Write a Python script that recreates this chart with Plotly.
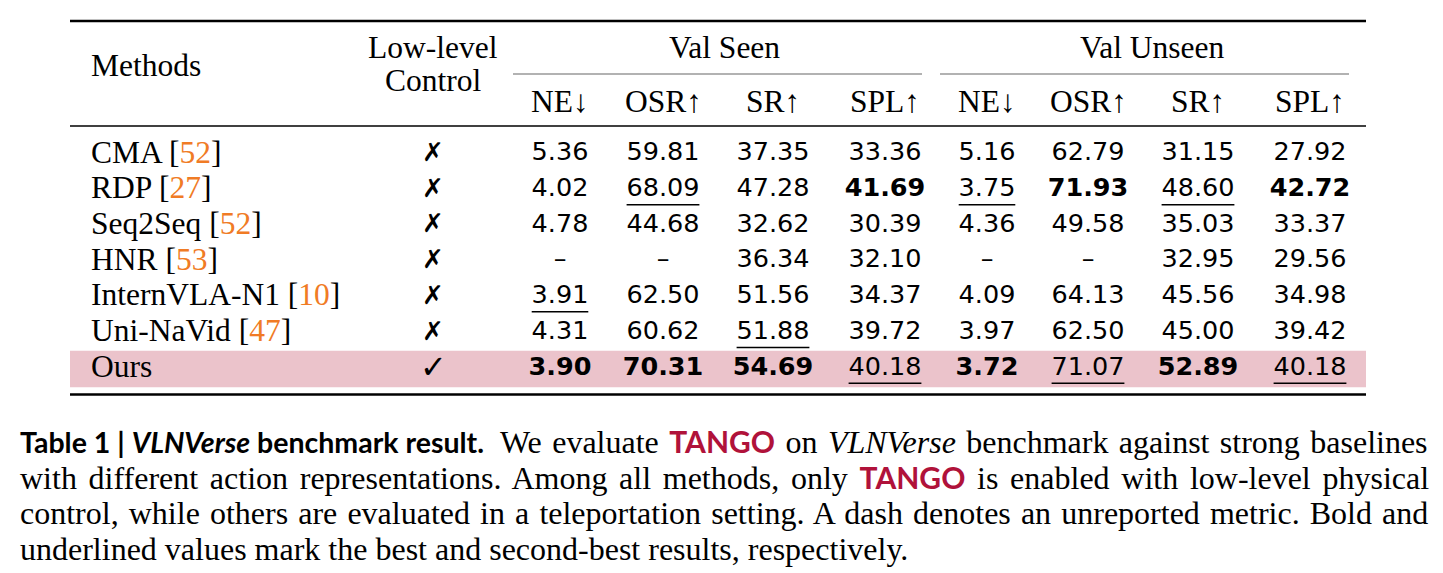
import plotly.graph_objects as go

# table data
methods = ["CMA", "RDP", "Seq2Seq", "HNR", "InternVLA-N1", "Uni-NaVid", "Ours"]
refs = ["52", "27", "52", "53", "10", "47", None]
low_level = [False, False, False, False, False, False, True]
metrics = ["NE↓", "OSR↑", "SR↑", "SPL↑"]
lower_better = [True, False, False, False]

val_seen = {
    "NE": [5.36, 4.02, 4.78, None, 3.91, 4.31, 3.90],
    "OSR": [59.81, 68.09, 44.68, None, 62.50, 60.62, 70.31],
    "SR": [37.35, 47.28, 32.62, 36.34, 51.56, 51.88, 54.69],
    "SPL": [33.36, 41.69, 30.39, 32.10, 34.37, 39.72, 40.18],
}
val_unseen = {
    "NE": [5.16, 3.75, 4.36, None, 4.09, 3.97, 3.72],
    "OSR": [62.79, 71.93, 49.58, None, 64.13, 62.50, 71.07],
    "SR": [31.15, 48.60, 35.03, 32.95, 45.56, 45.00, 52.89],
    "SPL": [27.92, 42.72, 33.37, 29.56, 34.98, 39.42, 40.18],
}

W, H = 1443, 573
OFF = 8  # page body margin
SERIF = "Liberation Serif"
NUMF = "DejaVu Sans"
SANS = "Lato"
ORANGE = "#f07b25"
RED = "#b0123a"
PINK = "#ebc3cb"

# layout of the table (pixels)
x_left, x_right = 70, 1366
row_y0, row_dy = 152, 35.7
col_x = [560, 663, 773, 885, 987, 1088, 1198, 1310]
ctrl_x = 433
row_y = [row_y0 + i * row_dy for i in range(len(methods))]

fig = go.Figure()

# highlight of our row
fig.add_shape(type="rect", x0=x_left, x1=x_right, y0=row_y[-1] - 15.5, y1=row_y[-1] + 21,
              fillcolor=PINK, line_width=0, layer="below")

# rules
fig.add_shape(type="line", x0=x_left, x1=x_right, y0=21, y1=21, line=dict(color="black", width=2.6))
fig.add_shape(type="line", x0=x_left, x1=x_right, y0=126, y1=126, line=dict(color="black", width=1.6))
fig.add_shape(type="line", x0=x_left, x1=x_right, y0=394.5, y1=394.5, line=dict(color="black", width=2.6))
fig.add_shape(type="line", x0=513, x1=922, y0=74, y1=74, line=dict(color="#666", width=1.2))
fig.add_shape(type="line", x0=940, x1=1349, y0=74, y1=74, line=dict(color="#666", width=1.2))

def ann(x, y, text, size=31.5, family=SERIF, xanchor="center", color="black", height=None):
    fig.add_annotation(x=x, y=y, xref="x", yref="y", text=text, showarrow=False,
                       xanchor=xanchor, yanchor="middle", align="left", height=height,
                       font=dict(size=size, family=family, color=color))

# headers
ann(89, 65, "Methods", xanchor="left")
ann(ctrl_x, 47, "Low-level", height=29)
ann(ctrl_x, 80, "Control", height=29)
ann((col_x[0] + col_x[3]) / 2 + 2, 47, "Val Seen")
ann((col_x[4] + col_x[7]) / 2 + 4, 47, "Val Unseen")
for j, x in enumerate(col_x):
    ann(x, 101, metrics[j % 4])

# method names and control marks
for i, m in enumerate(methods):
    t = m if refs[i] is None else f"{m} [<span style='color:{ORANGE}'>{refs[i]}</span>]"
    ann(89, row_y[i], t, xanchor="left")
    if low_level[i]:
        ann(ctrl_x, row_y[i] + 1, "✓", size=32, family="DejaVu Sans")
    else:
        ann(ctrl_x, row_y[i], "✗", size=26, family="DejaVu Sans")

# numeric cells, best bold, second best underlined
cols = [val_seen[k] for k in val_seen] + [val_unseen[k] for k in val_unseen]
for j, vals in enumerate(cols):
    low = lower_better[j % 4]
    valid = sorted([v for v in vals if v is not None], reverse=not low)
    best, second = valid[0], valid[1]
    texts = []
    for i, v in enumerate(vals):
        if v is None:
            texts.append("–")
            continue
        s = f"{v:.2f}"
        if v == best:
            s = f"<b>{s}</b>"
        elif v == second:
            n = len(s) - 1
            w = n * 16.2 + 8
            fig.add_shape(type="line", x0=col_x[j] - w / 2, x1=col_x[j] + w / 2,
                          y0=row_y[i] + 17, y1=row_y[i] + 17,
                          line=dict(color="black", width=1.4))
        texts.append(s)
    fig.add_trace(go.Scatter(x=[col_x[j]] * len(vals), y=[y + 2 for y in row_y], mode="text",
                             text=texts, textposition="middle center",
                             textfont=dict(size=25.5, family=NUMF, color="black"),
                             hoverinfo="skip", showlegend=False))

# caption (lines 1-3 stretched like justified text)
tango = f"<span style='font-family:{SANS};font-size:30px;color:{RED}'><b>TANGO</b></span>"
bold_head = f"<span style='font-family:{SANS};font-size:28.5px'><b>Table 1 | <i>VLNVerse</i> benchmark result.</b></span>"
cap_lines = [
    (bold_head + "\u2002<span style='word-spacing:2.4px'>"
     f"We evaluate {tango} on <i>VLNVerse</i> benchmark against strong baselines</span>"),
    ("<span style='word-spacing:3.7px'>with different action representations. Among all methods, "
     f"only {tango} is enabled with low-level physical</span>"),
    ("<span style='word-spacing:2.1px'>control, while others are evaluated in a teleportation setting. "
     "A dash denotes an unreported metric. Bold and</span>"),
    "underlined values mark the best and second-best results, respectively.",
]
cap_y = [441, 477, 513, 549]
for t, y in zip(cap_lines, cap_y):
    ann(18, y, t, size=32, xanchor="left")

fig.update_xaxes(range=[OFF, W + OFF], visible=False, fixedrange=True)
fig.update_yaxes(range=[H + OFF, OFF], visible=False, fixedrange=True)
fig.update_layout(width=W, height=H, margin=dict(l=0, r=0, t=0, b=0),
                  plot_bgcolor="white", paper_bgcolor="white")

fig.write_html("out.html")
